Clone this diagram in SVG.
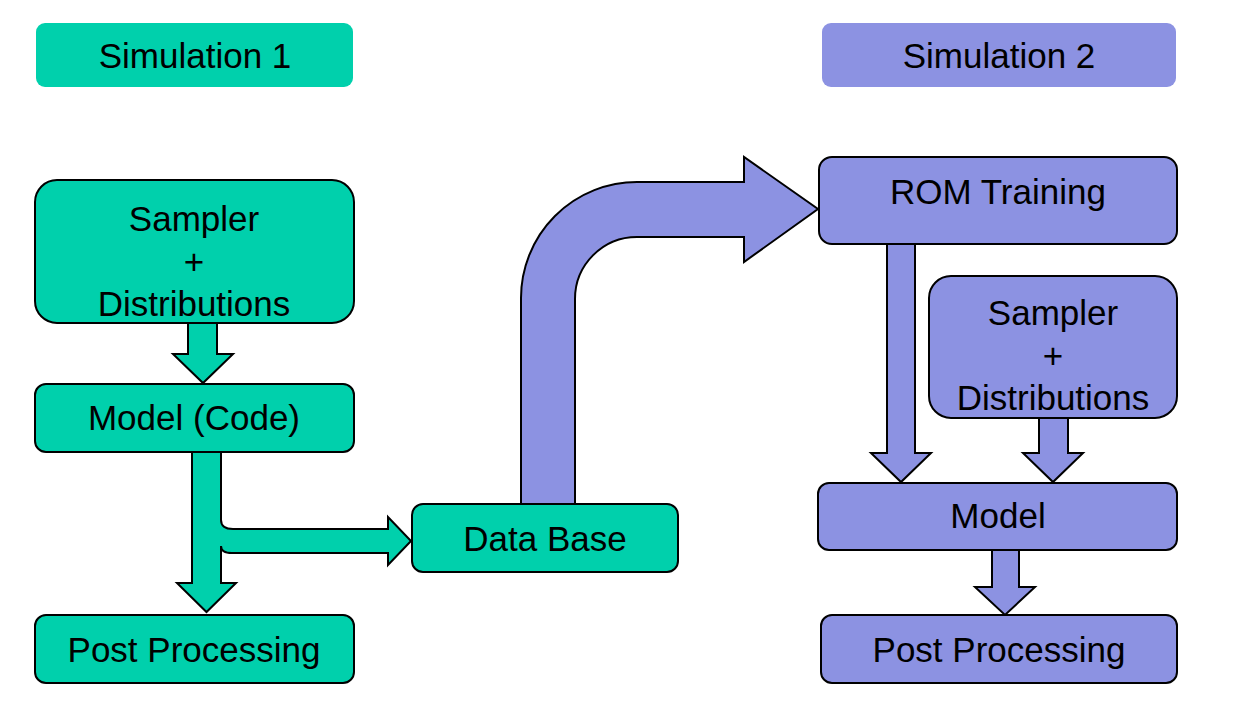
<svg xmlns="http://www.w3.org/2000/svg" width="1250" height="716" viewBox="0 0 1250 716">
<style>
.g{fill:#00D0AC}
.p{fill:#8C92E2}
.s{stroke:#000;stroke-width:2;stroke-linejoin:miter}
text{font-family:"Liberation Sans",Arial,sans-serif;font-size:35px;fill:#000;text-anchor:middle}
</style>
<rect width="1250" height="716" fill="#fff"/>
<g id="connectors">
<path class="g s" d="M192,452 L221,452 L221,520 Q221,529 233,529 L388,529 L388,517 L411,541 L388,565 L388,553 L232,553 Q221,553 221,546 L221,583 L236,583 L206.5,612 L177,583 L192,583 Z"/>
<path class="g s" d="M188,323 L217,323 L217,354 L233,354 L203,383 L173,354 L188,354 Z"/>
<path class="p s" d="M521,504 L521,298 A116,116 0 0 1 637,182 L744,182 L744,157 L818,209 L744,262 L744,237 L637,237 A62,62 0 0 0 575,299 L575,504 Z"/>
<path class="p s" d="M887,244 L915,244 L915,453 L931,453 L901,482 L871,453 L887,453 Z"/>
<path class="p s" d="M1039,418 L1068,418 L1068,453 L1083,453 L1053,482 L1023,453 L1039,453 Z"/>
<path class="p s" d="M992,550 L1019,550 L1019,587 L1035,587 L1005,615 L975,587 L992,587 Z"/>
</g>
<g id="sim1-title"><rect class="g" x="36" y="23" width="317" height="64" rx="9"/><text x="195" y="68">Simulation 1</text></g>
<g id="sim2-title"><rect class="p" x="822" y="23" width="354" height="64" rx="9"/><text x="999" y="68">Simulation 2</text></g>
<g id="sampler1"><rect class="g s" x="35" y="180" width="319" height="143" rx="22"/><text x="194" y="231">Sampler</text><text x="194" y="274">+</text><text x="194" y="316">Distributions</text></g>
<g id="model1"><rect class="g s" x="35" y="384" width="319" height="68" rx="11"/><text x="194" y="430">Model (Code)</text></g>
<g id="post1"><rect class="g s" x="35" y="615" width="319" height="68" rx="11"/><text x="194" y="662">Post Processing</text></g>
<g id="database"><rect class="g s" x="412" y="504" width="266" height="68" rx="11"/><text x="545" y="551">Data Base</text></g>
<g id="rom"><rect class="p s" x="819" y="157" width="358" height="87" rx="13"/><text x="998" y="204">ROM Training</text></g>
<g id="sampler2"><rect class="p s" x="929" y="276" width="248" height="142" rx="22"/><text x="1053" y="325">Sampler</text><text x="1053" y="368">+</text><text x="1053" y="410">Distributions</text></g>
<g id="model2"><rect class="p s" x="818" y="483" width="359" height="67" rx="11"/><text x="998" y="528">Model</text></g>
<g id="post2"><rect class="p s" x="821" y="615" width="356" height="68" rx="11"/><text x="999" y="662">Post Processing</text></g>
</svg>
